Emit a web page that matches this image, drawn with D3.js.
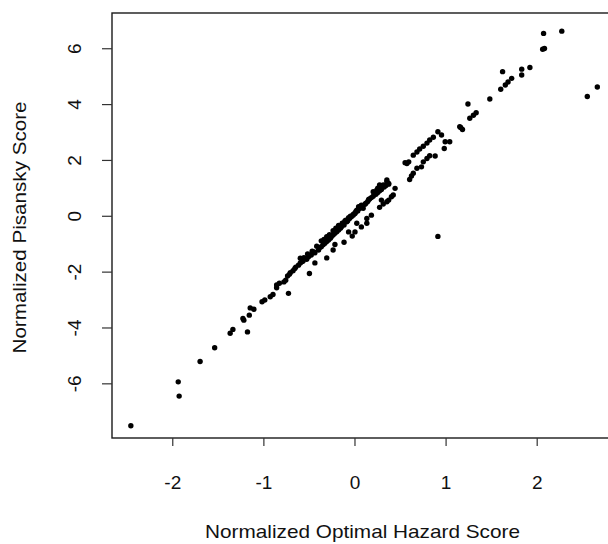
<!DOCTYPE html>
<html>
<head>
<meta charset="utf-8">
<script src="https://cdn.jsdelivr.net/npm/d3@7"></script>
<style>
  body { margin: 0; background: #fff; }
  text { font-family: "Liberation Sans", Arial, Helvetica, sans-serif; fill: #111; }
</style>
</head>
<body>
<div class="container"></div>
<script>
// values
const hazard = [
  2.07, 2.27, 2.06, 2.08, 1.62, 1.83, 1.83, 1.92, 1.72, 1.68, 1.65, 1.60, 2.55, 2.66, 1.48,
  1.24, 1.33, 1.30, 1.26, 1.15, 1.18, 1.16, 0.91, 0.95, 0.99, 1.04, 0.98, 0.86, 0.82, 0.79,
  0.75, 0.71, 0.68, 0.64, 0.55, 0.59, 0.57, 0.88, 0.82, 0.79, 0.75, 0.73, 0.68, 0.64, 0.60,
  0.62, 0.35, 0.37, 0.31, 0.29, 0.35, 0.44, 0.40, 0.42, 0.20, 0.24, 0.25, 0.27, 0.00, -0.07,
  -0.12, -0.22, -0.24, -0.31, -0.44, -0.50, -0.73, -1.18, 0.07, 0.13, 0.18, 0.27, 0.35, 0.31,
  -0.03, 0.02, 0.13, 0.29, 0.37, -2.46, -1.94, -1.93, -1.70, -1.54, -1.37, -1.34, -1.23, -1.22,
  -1.16, -1.11, -1.15, -1.02, -0.99, -0.93, -0.90, -0.86, -0.83, -0.86, -0.78, -0.76, -0.74,
  -0.71, -0.68, -0.66, -0.62, -0.60, -0.57, -0.53, -0.48, -0.44, -0.40, -0.37, -0.33, -0.29,
  -0.26, -0.22, -0.18, -0.15, -0.13, -0.09, -0.06, -0.02, 0.02, 0.04, -0.37, -0.31, -0.24,
  -0.18, -0.11, -0.07, -0.02, 0.04, 0.11, 0.14, 0.18, 0.23, 0.27, 0.32, 0.37, -0.47, -0.52,
  -0.56, -0.60, -0.42, 0.07, 0.09, 0.91, -0.30, -0.20, -0.10, 0.00, 0.06, 0.15,
  // dense part of the band
  -0.72, -0.65, -0.58, -0.51, -0.45, -0.39, -0.35, -0.31, -0.27, -0.24, -0.20, -0.16, -0.12,
  -0.08, -0.04, 0.00, 0.03, 0.08, 0.12, 0.16, 0.20, 0.25, 0.29, 0.34, -0.34, -0.28, -0.21,
  -0.14, -0.05, 0.01
];
const pisansky = [
  6.55, 6.63, 5.98, 6.01, 5.18, 5.27, 5.06, 5.33, 4.94, 4.81, 4.70, 4.55, 4.29, 4.63, 4.20,
  4.02, 3.71, 3.62, 3.51, 3.21, 3.11, 3.18, 3.03, 2.91, 2.67, 2.67, 2.43, 2.83, 2.73, 2.62,
  2.51, 2.41, 2.30, 2.19, 1.92, 1.95, 1.89, 2.16, 2.17, 2.07, 1.95, 1.77, 1.72, 1.54, 1.32,
  1.44, 1.30, 1.18, 1.12, 1.06, 1.24, 1.00, 0.70, 0.76, 0.88, 0.94, 1.01, 1.12, -0.56, -0.56,
  -0.93, -1.01, -1.21, -1.49, -1.67, -2.05, -2.76, -4.14, -0.38, -0.25, 0.04, 0.32, 0.52, 0.44,
  -0.71, -0.25, -0.08, 0.58, 0.58, -7.50, -5.93, -6.44, -5.20, -4.71, -4.19, -4.05, -3.66, -3.72,
  -3.54, -3.33, -3.28, -3.06, -3.00, -2.88, -2.80, -2.56, -2.40, -2.46, -2.35, -2.29, -2.14,
  -2.02, -1.95, -1.87, -1.75, -1.67, -1.60, -1.54, -1.39, -1.31, -1.21, -1.09, -0.97, -0.85,
  -0.73, -0.61, -0.49, -0.38, -0.25, -0.20, -0.08, 0.04, 0.22, 0.34, -0.88, -0.73, -0.52,
  -0.33, -0.17, -0.05, 0.07, 0.26, 0.43, 0.53, 0.67, 0.79, 0.91, 1.05, 1.15, -1.25, -1.35,
  -1.48, -1.50, -1.07, 0.40, 0.29, -0.72, -0.78, -0.47, -0.14, 0.12, 0.30, 0.60,
  -2.08, -1.82, -1.62, -1.45, -1.28, -1.13, -1.02, -0.90, -0.79, -0.67, -0.55, -0.43, -0.31,
  -0.16, -0.02, 0.10, 0.19, 0.36, 0.47, 0.62, 0.72, 0.85, 0.96, 1.10, -0.83, -0.66, -0.43,
  -0.25, 0.00, 0.17
];
const xTicks = [-2, -1, 0, 1, 2];
const yTicks = [-6, -4, -2, 0, 2, 4, 6];

const width = 608;
const height = 544;
// plot box (right edge runs off the page, as in the scan)
const box = { left: 112, right: 616, top: 13, bottom: 438 };

const svg = d3.select(".container")
  .append("svg")
  .attr("width", width)
  .attr("height", height);

const x = d3.scaleLinear().domain([-2.667, 2.865]).range([box.left, box.right]);
const y = d3.scaleLinear().domain([-7.94, 7.28]).range([box.bottom, box.top]);

// frame
svg.append("rect")
  .attr("x", box.left)
  .attr("y", box.top)
  .attr("width", box.right - box.left)
  .attr("height", box.bottom - box.top)
  .attr("fill", "none")
  .attr("stroke", "#1a1a1a")
  .attr("stroke-width", 1.4);

// x ticks + labels
svg.selectAll(".xtick")
  .data(xTicks)
  .enter()
  .append("line")
  .attr("x1", d => x(d))
  .attr("x2", d => x(d))
  .attr("y1", box.bottom)
  .attr("y2", box.bottom + 8)
  .attr("stroke", "#333")
  .attr("stroke-width", 1.2);

svg.selectAll(".xlab")
  .data(xTicks)
  .enter()
  .append("text")
  .attr("x", d => x(d))
  .attr("y", 489)
  .attr("text-anchor", "middle")
  .style("font-size", "19px")
  .text(d => d);

// y ticks + labels (rotated like R's default las=0)
svg.selectAll(".ytick")
  .data(yTicks)
  .enter()
  .append("line")
  .attr("x1", box.left - 10)
  .attr("x2", box.left)
  .attr("y1", d => y(d))
  .attr("y2", d => y(d))
  .attr("stroke", "#333")
  .attr("stroke-width", 1.2);

svg.selectAll(".ylab")
  .data(yTicks)
  .enter()
  .append("text")
  .attr("transform", d => `translate(81, ${y(d)}) rotate(-90)`)
  .attr("text-anchor", "middle")
  .style("font-size", "19px")
  .text(d => d);

// axis titles
svg.append("text")
  .attr("x", 362.5)
  .attr("y", 538)
  .attr("text-anchor", "middle")
  .attr("textLength", 315)
  .attr("lengthAdjust", "spacingAndGlyphs")
  .style("font-size", "18.5px")
  .text("Normalized Optimal Hazard Score");

svg.append("text")
  .attr("transform", "translate(26, 227.5) rotate(-90)")
  .attr("text-anchor", "middle")
  .attr("textLength", 252)
  .attr("lengthAdjust", "spacingAndGlyphs")
  .style("font-size", "18px")
  .text("Normalized Pisansky Score");

// the points
svg.selectAll("circle")
  .data(d3.zip(hazard, pisansky))
  .enter()
  .append("circle")
  .attr("cx", d => x(d[0]))
  .attr("cy", d => y(d[1]))
  .attr("r", 2.7)
  .attr("fill", "#000");
</script>
</body>
</html>
